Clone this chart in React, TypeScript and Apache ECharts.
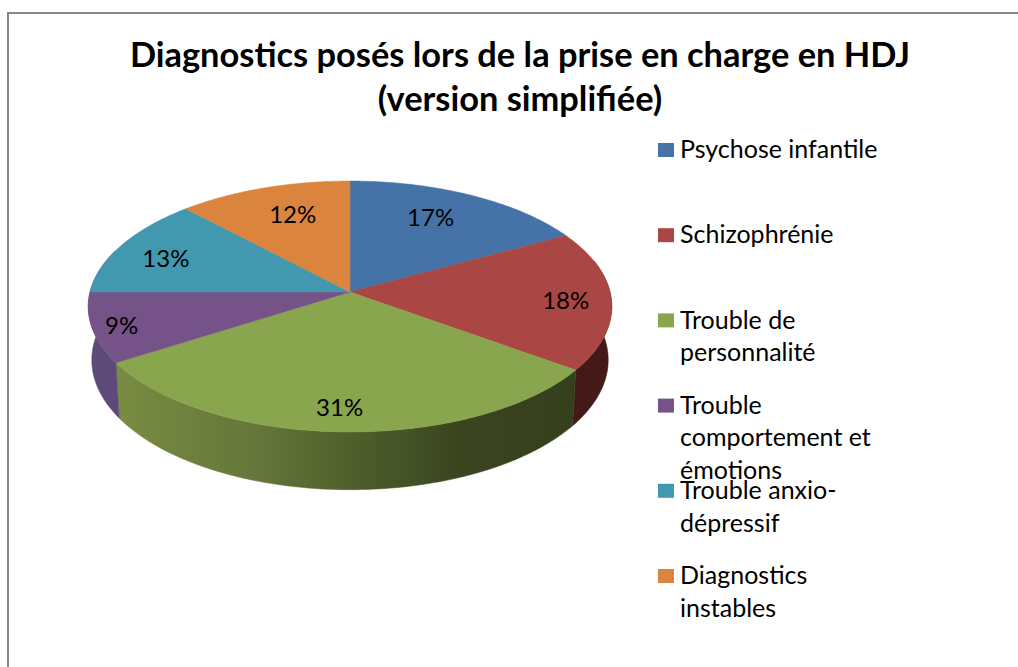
import React, { useEffect, useRef } from "react";
import * as echarts from "echarts";

const titleText = "Diagnostics posés lors de la prise en charge en HDJ\n(version simplifiée)";
const categories = [
  "Psychose infantile",
  "Schizophrénie",
  "Trouble de\npersonnalité",
  "Trouble\ncomportement et\némotions",
  "Trouble anxio-\ndépressif",
  "Diagnostics\ninstables",
];
const values = [17, 18, 31, 9, 13, 12];
const topColors = ["#4572A7", "#AA4643", "#89A54E", "#755389", "#4198AF", "#DB843D"];

// Layout constants of the perspective pie
const CX = 350, CY = 292, RX = 260, RY = 123.8, PERSP = 0.1155;
const BOTTOM_RX = 256.5, BOTTOM_RY = 128, DEPTH = 53;
const LABEL_RADII = [0.7, 0.83, 0.82, 0.9, 0.8, 0.7];
const LABEL_SHIFT = [[-6, -6], [-1, 1], [-3, 2], [3, 0], [0, 3], [5, -4]];
const FONT = "Lato";

const total = values.reduce((a, b) => a + b, 0);
const starts: number[] = [];
values.reduce((acc, v, i) => { starts[i] = acc; return acc + v; }, 0);

const rad = (d: number) => (d * Math.PI) / 180;
const valueToDeg = (v: number) => (v / total) * 360;

function topPoint(deg: number, r = 1): [number, number] {
  const s = Math.sin(rad(deg)) * r, c = Math.cos(rad(deg)) * r;
  const w = 1 + PERSP * c;
  return [CX + (RX * s) / w, CY - (RY * c) / w];
}
function bottomPoint(deg: number): [number, number] {
  const s = Math.sin(rad(deg)), c = Math.cos(rad(deg));
  const w = 1 + PERSP * c;
  return [CX + (BOTTOM_RX * s) / w, CY + DEPTH - (BOTTOM_RY * c) / w];
}
function arc(a: number, b: number, f: (d: number) => [number, number]) {
  const pts: [number, number][] = [];
  const n = Math.max(2, Math.ceil(Math.abs(b - a)));
  for (let i = 0; i <= n; i++) pts.push(f(a + ((b - a) * i) / n));
  return pts;
}

function wallFill(i: number): any {
  if (i === 1) return "#441A18";
  if (i === 3) return "#5E4A78";
  if (i === 2) {
    return new echarts.graphic.LinearGradient(117, 0, 575, 0, [
      { offset: 0, color: "#788C42" },
      { offset: 0.3, color: "#65773A" },
      { offset: 0.55, color: "#4B5B29" },
      { offset: 0.75, color: "#3A4520" },
      { offset: 1, color: "#363F1C" },
    ], true);
  }
  return topColors[i];
}

// Only the front half has a visible wall; the outermost visible slices wrap past the silhouette,
// the top faces hide what is behind them.
const renderWall = (params: any) => {
  const i = params.dataIndex;
  let a = valueToDeg(starts[i]);
  let b = valueToDeg(starts[i] + values[i]);
  if (b <= 90 || a >= 270) return { type: "group", children: [] };
  if (a < 90) a = 75;
  if (b >= 270) b = 290;
  const fill = wallFill(i);
  return {
    type: "polygon",
    shape: { points: [...arc(a, b, (d) => topPoint(d)), ...arc(b, a, bottomPoint)] },
    style: { fill, stroke: fill, lineWidth: 0.5 },
  };
};

const renderTop = (params: any) => {
  const i = params.dataIndex;
  const a = valueToDeg(starts[i]);
  const b = valueToDeg(starts[i] + values[i]);
  return {
    type: "polygon",
    shape: { points: [[CX, CY], ...arc(a, b, (d) => topPoint(d))] },
    style: { fill: topColors[i], stroke: topColors[i], lineWidth: 0.5 },
  };
};

const renderLabel = (params: any, api: any) => {
  const i = params.dataIndex;
  const [x, y] = topPoint(valueToDeg(starts[i] + values[i] / 2), LABEL_RADII[i]);
  return {
    type: "text",
    x: x + LABEL_SHIFT[i][0],
    y: y + LABEL_SHIFT[i][1],
    style: {
      text: `${api.value(0)}%`,
      fill: "#000",
      font: `24px ${FONT}`,
      textAlign: "center",
      textVerticalAlign: "middle",
    },
  };
};

const legendGraphics = categories.flatMap((name, i) => {
  const y = 150 + i * 85.2;
  return [
    { type: "rect", left: 658, top: y - 7, shape: { x: 0, y: 0, width: 16, height: 14 }, style: { fill: topColors[i] } },
    {
      type: "text",
      x: 680,
      y: y - 18,
      style: { text: name, fill: "#000", font: `25px ${FONT}`, lineHeight: 32.5, textVerticalAlign: "top" },
    },
  ];
});

export default function App() {
  const ref = useRef<HTMLDivElement>(null);
  useEffect(() => {
    const chart = echarts.init(ref.current!, undefined, { renderer: "svg" });
    const seriesData = values.map((v) => [v]);
    chart.setOption({
      animation: false,
      backgroundColor: "#fff",
      title: {
        text: titleText,
        left: 515,
        top: 26,
        textAlign: "center",
        textStyle: { fontFamily: FONT, fontWeight: "bold", fontSize: 34.4, color: "#000", lineHeight: 44 },
      },
      series: [
        { type: "custom", coordinateSystem: "none", silent: true, z: 1, renderItem: renderWall, data: seriesData },
        { type: "custom", coordinateSystem: "none", silent: true, z: 2, renderItem: renderTop, data: seriesData },
        { type: "custom", coordinateSystem: "none", silent: true, z: 3, renderItem: renderLabel, data: seriesData },
      ],
      graphic: [
        {
          type: "polyline",
          shape: { points: [[8, 667], [8, 13], [1018, 13]] },
          style: { fill: "none", stroke: "#868686", lineWidth: 2 },
        },
        ...legendGraphics,
      ],
    });
    return () => chart.dispose();
  }, []);
  return <div ref={ref} style={{ position: "fixed", left: 0, top: 0, width: 1018, height: 667 }} />;
}
